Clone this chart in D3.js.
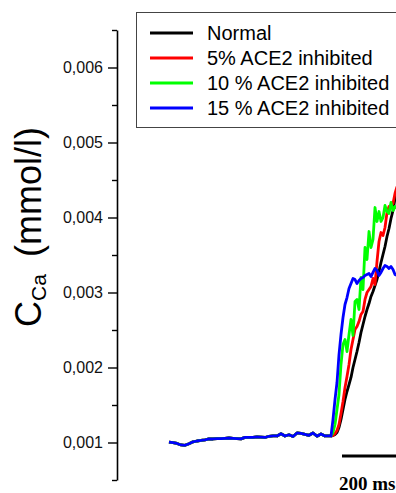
<!DOCTYPE html>
<meta charset="utf-8">

<!-- Load d3.js -->
<script src="https://d3js.org/d3.v7.min.js"></script>

<style>
  body { margin: 0; background: #fff; }
  svg { display: block; }
</style>

<!-- Create a div where the graph will take place -->
<div id="my_dataviz"></div>

<script>
// shared resting part of the trace (time in ms, concentration in mmol/l)
var tBase = [0, 10, 20, 30, 40, 50, 60, 70, 80, 90, 100, 110, 120, 130, 140, 150, 160, 170, 180, 190,
             200, 210, 220, 230, 240, 250, 260, 270, 280, 290, 300, 310, 320, 330, 340, 350, 360, 370, 380, 390, 400];
var cBase = [0.001004, 0.000997, 0.000987, 0.000967, 0.000963, 0.000984, 0.001009, 0.001020, 0.001027, 0.001036,
             0.001047, 0.001047, 0.001053, 0.001051, 0.001056, 0.001060, 0.001056, 0.001053, 0.001049, 0.001069,
             0.001067, 0.001069, 0.001076, 0.001073, 0.001067, 0.001083, 0.001089, 0.001087, 0.001117, 0.001087,
             0.001103, 0.001080, 0.001127, 0.001123, 0.001109, 0.001096, 0.001127, 0.001084, 0.001113, 0.001087, 0.001089];

// rising part, one value per series
var tRise = [405, 410, 415, 420, 425, 430, 435, 440, 445, 450, 455, 460, 465, 470, 475, 480, 485,
             490, 495, 500, 505, 510, 515, 520, 525, 530, 535, 540, 545, 550, 555, 560, 565, 570];
var cNormal = [0.001087, 0.001093, 0.001107, 0.001133, 0.001200, 0.001307, 0.001440, 0.001573, 0.001680, 0.001773,
               0.001867, 0.002000, 0.002107, 0.002213, 0.002333, 0.002467, 0.002573, 0.002680, 0.002773, 0.002853,
               0.002947, 0.003013, 0.003093, 0.003173, 0.003280, 0.003400, 0.003507, 0.003613, 0.003747, 0.003853,
               0.003987, 0.004093, 0.004253, 0.004347];
var cAce5 = [0.001087, 0.001093, 0.001120, 0.001160, 0.001240, 0.001387, 0.001547, 0.001733, 0.001880, 0.002040,
             0.002240, 0.002373, 0.002507, 0.002547, 0.002613, 0.002707, 0.002747, 0.002907, 0.003000, 0.003040,
             0.003080, 0.003187, 0.003107, 0.003413, 0.003680, 0.003800, 0.003760, 0.003867, 0.004067, 0.004147,
             0.004160, 0.004187, 0.004320, 0.004413];
var cAce10 = [0.001087, 0.001133, 0.001240, 0.001440, 0.001640, 0.002040, 0.002307, 0.002373, 0.002213, 0.002440,
              0.002640, 0.002427, 0.002880, 0.002907, 0.002773, 0.003200, 0.003040, 0.003600, 0.003440, 0.003813,
              0.003600, 0.003707, 0.004133, 0.003947, 0.004080, 0.003947, 0.004000, 0.004160, 0.004080, 0.004053,
              0.004200, 0.004093, 0.004147, 0.004120];
var cAce15 = [0.001087, 0.001307, 0.001573, 0.001800, 0.002173, 0.002440, 0.002667, 0.002840, 0.002933, 0.003053,
              0.003120, 0.003187, 0.003173, 0.003120, 0.003160, 0.003187, 0.003200, 0.003227, 0.003240, 0.003253,
              0.003213, 0.003267, 0.003320, 0.003293, 0.003227, 0.003267, 0.003320, 0.003360, 0.003347, 0.003320,
              0.003347, 0.003307, 0.003240, 0.003227];

var seriesNames = ["Normal", "5% ACE2 inhibited", "10 % ACE2 inhibited", "15 % ACE2 inhibited"];
var seriesColors = ["#000000", "#ff0000", "#00ff00", "#0000ff"];
var seriesValues = [cNormal, cAce5, cAce10, cAce15];

var yTickValues = [0.001, 0.002, 0.003, 0.004, 0.005, 0.006];
var yTickLabels = ["0,001", "0,002", "0,003", "0,004", "0,005", "0,006"];
var yMinorValues = [0.0005, 0.0015, 0.0025, 0.0035, 0.0045, 0.0055, 0.0065];

var scaleBarStart = 432.5, scaleBarLength = 200, scaleBarLabel = "200 ms";

var width = 396, height = 493;
var font = "'Liberation Sans', Arial, sans-serif";

var svg = d3.select("#my_dataviz")
  .append("svg")
    .attr("width", width)
    .attr("height", height);

// scales
var x = d3.scaleLinear()
  .domain([0, 570])
  .range([169, 397]);

var y = d3.scaleLinear()
  .domain([0.0005, 0.0065])
  .range([480, 30]);

var axisX = 117;

// Y axis, labelled ticks
var yAxis = svg.append("g")
  .attr("transform", "translate(" + axisX + ",0)")
  .call(d3.axisLeft(y)
    .tickValues(yTickValues)
    .tickSize(9)
    .tickSizeOuter(0)
    .tickPadding(5)
    .tickFormat(function(d, i) { return yTickLabels[i]; }));
yAxis.select(".domain").attr("stroke", "#000").attr("stroke-width", 1.6);
yAxis.selectAll(".tick line").attr("stroke", "#000").attr("stroke-width", 1.4);
yAxis.selectAll("text")
  .style("font-family", font)
  .style("font-size", "16px")
  .attr("fill", "#111");

// minor ticks
svg.append("g")
  .attr("transform", "translate(" + axisX + ",0)")
  .call(d3.axisLeft(y).tickValues(yMinorValues).tickSize(5).tickSizeOuter(0).tickFormat(""))
  .call(function(g) { g.select(".domain").remove(); })
  .selectAll(".tick line").attr("stroke", "#000").attr("stroke-width", 1.4);

// Y axis title
var title = svg.append("text")
  .attr("transform", "translate(41,327) rotate(-90)")
  .style("font-family", font)
  .style("font-size", "36px")
  .attr("fill", "#000");
title.append("tspan").text("C");
title.append("tspan").attr("dy", 5).style("font-size", "21px").text("Ca");
title.append("tspan").attr("dy", -5).text("\u2009 (mmol/l)");

// lines
var line = d3.line()
  .x(function(d) { return x(d[0]); })
  .y(function(d) { return y(d[1]); });

seriesValues.forEach(function(vals, k) {
  var pts = tBase.map(function(t, i) { return [t, cBase[i]]; })
    .concat(tRise.map(function(t, i) { return [t, vals[i]]; }));
  svg.append("path")
    .datum(pts)
    .attr("fill", "none")
    .attr("stroke", seriesColors[k])
    .attr("stroke-width", 2.8)
    .attr("stroke-linejoin", "round")
    .attr("d", line);
});

// scale bar
svg.append("line")
  .attr("x1", x(scaleBarStart))
  .attr("x2", x(scaleBarStart + scaleBarLength))
  .attr("y1", 456)
  .attr("y2", 456)
  .attr("stroke", "#000")
  .attr("stroke-width", 3);
svg.append("text")
  .attr("x", x(scaleBarStart) - 3)
  .attr("y", 490)
  .style("font-family", "'Liberation Serif', 'Times New Roman', serif")
  .style("font-weight", "bold")
  .style("font-size", "19px")
  .text(scaleBarLabel);

// legend
var legend = svg.append("g");
legend.append("rect")
  .attr("x", 136.5)
  .attr("y", 12.5)
  .attr("width", 300)
  .attr("height", 115)
  .attr("fill", "#fff")
  .attr("stroke", "#444")
  .attr("stroke-width", 1);

seriesNames.forEach(function(name, i) {
  var yy = 33 + i * 25;
  legend.append("line")
    .attr("x1", 150).attr("x2", 193)
    .attr("y1", yy).attr("y2", yy)
    .attr("stroke", seriesColors[i])
    .attr("stroke-width", 3);
  legend.append("text")
    .attr("x", 207)
    .attr("y", yy + 7)
    .style("font-family", font)
    .style("font-size", "20px")
    .attr("fill", "#000")
    .text(name);
});
</script>
